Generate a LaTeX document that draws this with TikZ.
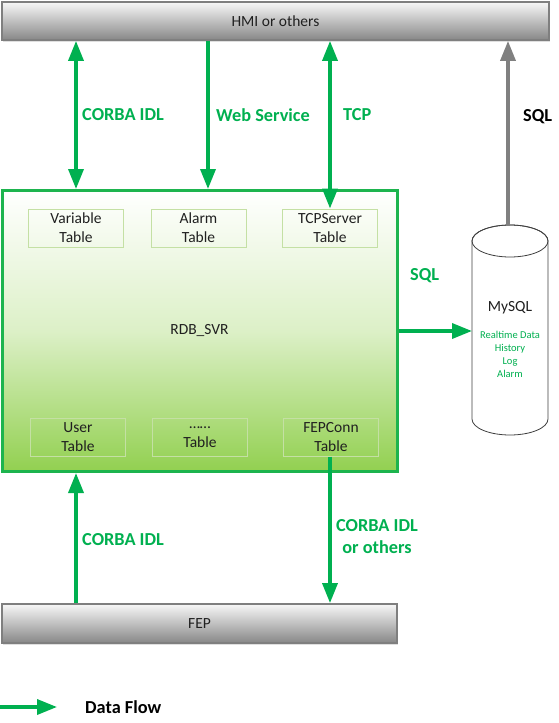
\documentclass[tikz,border=0pt]{standalone}
\usepackage{fontspec}
\setmainfont{Carlito}
\usetikzlibrary{arrows.meta,shadows}
\definecolor{flow}{HTML}{00B050}
\definecolor{boxline}{HTML}{1DB44E}
\definecolor{boxfill}{HTML}{92D050}
\definecolor{tabline}{HTML}{C4E0A4}
\definecolor{barline}{HTML}{7F7F7F}
\definecolor{sqlgray}{HTML}{808080}
\definecolor{txt}{HTML}{202020}
\begin{document}
\begin{tikzpicture}[x=1pt,y=-1pt,
  >={Triangle[length=20pt,width=15pt]},
  bar/.style={draw=barline, line width=1.8pt, top color=white!97!black, bottom color=black!47,
    inner sep=0pt, font=\fontsize{15.5}{18}\selectfont, text=txt,
    drop shadow={shadow xshift=1pt, shadow yshift=-1.5pt, opacity=0.25}},
  tabbox/.style={draw=tabline, line width=1pt, minimum width=95pt, minimum height=38pt,
    inner sep=0pt, align=center, font=\fontsize{15.5}{19}\selectfont, text=txt},
  flowarr/.style={draw=flow, line width=3.5pt},
  lbl/.style={inner sep=0pt, font=\fontsize{18.3}{22}\selectfont\bfseries, text=flow},
  dbtxt/.style={inner sep=0pt, align=center, text=flow, font=\fontsize{10.5}{13}\selectfont}
]
\useasboundingbox (0,0) rectangle (559,723);

% bars
\node[bar, minimum width=547pt, minimum height=38pt] (hmi) at (275.5,21) {HMI or others};
\node[bar, minimum width=395pt, minimum height=39pt] (fep) at (199.5,623.5) {FEP};

% main box
\node[draw=boxline, line width=3pt, minimum width=395pt, minimum height=281pt,
  top color=white, bottom color=boxfill, middle color=boxfill!32!white,
  inner sep=0pt, font=\fontsize{15.5}{18}\selectfont, text=txt] (rdb) at (199.5,331) {RDB\_SVR};

% tables
\node[tabbox] (varT) at (76,228) {Variable\\Table};
\node[tabbox] (almT) at (198.5,228) {Alarm\\Table};
\node[tabbox] (tcpT) at (330,228) {TCPServer\\Table};
\node[tabbox] (usrT) at (78,437) {User\\Table};
\node[tabbox] (dotT) at (200,437) {……\\Table};
\node[tabbox] (fepT) at (331,437) {FEPConn\\Table};

% database cylinder
\draw[draw=black!75, line width=0.8pt, fill=white]
  (472,241) -- (472,419) arc[start angle=180, end angle=360, x radius=38pt, y radius=16pt]
  -- (548,241) arc[start angle=0, end angle=180, x radius=38pt, y radius=16pt] -- cycle;
\draw[draw=black!75, line width=0.8pt] (510,241) ellipse[x radius=38pt, y radius=16pt];
\node[inner sep=0pt, font=\fontsize{15.5}{18}\selectfont, text=txt] (mysql) at (510,308) {MySQL};
\node[dbtxt, anchor=north] (dbitems) at (510,331) {Realtime Data\\History\\Log\\Alarm};
\coordinate (dbtop) at (508,226);
\coordinate (dbleft) at (472,331);

% connectors
\coordinate (ws) at (208,0);
\draw[flowarr, <->] (varT |- hmi.south) -- (varT |- rdb.north);
\draw[flowarr, ->] (ws |- hmi.south) -- (ws |- rdb.north);
\draw[flowarr, <->] (tcpT |- hmi.south) -- (tcpT.north);
\draw[draw=sqlgray, line width=3.5pt, ->] (dbtop) -- (dbtop |- hmi.south);
\draw[flowarr, ->] (rdb.east) -- (dbleft);
\draw[flowarr, ->] (varT |- fep.north) -- (varT |- rdb.south);
\draw[flowarr, ->] ([xshift=-1pt]fepT.south) -- ([xshift=-1pt]fepT.south |- fep.north);

% labels
\node[lbl, anchor=west] (l1) at (82,115) {CORBA IDL};
\node[lbl, anchor=west] (l2) at (216,115) {Web Service};
\node[lbl, anchor=west] (l3) at (343,115) {TCP};
\node[lbl, anchor=west, text=black] (l4) at (523,117) {SQL};
\node[lbl, anchor=west] (l5) at (410,276) {SQL};
\node[lbl, anchor=west] (l6) at (82,540) {CORBA IDL};
\node[lbl, align=center] (l7) at (377,537) {CORBA IDL\\or others};

% legend
\coordinate (lg1) at (0,707);
\coordinate (lg2) at (57,707);
\draw[flowarr, ->] (lg1) -- (lg2);
\node[lbl, anchor=west, text=black] (lgt) at (85,707) {Data Flow};
\end{tikzpicture}
\end{document}
